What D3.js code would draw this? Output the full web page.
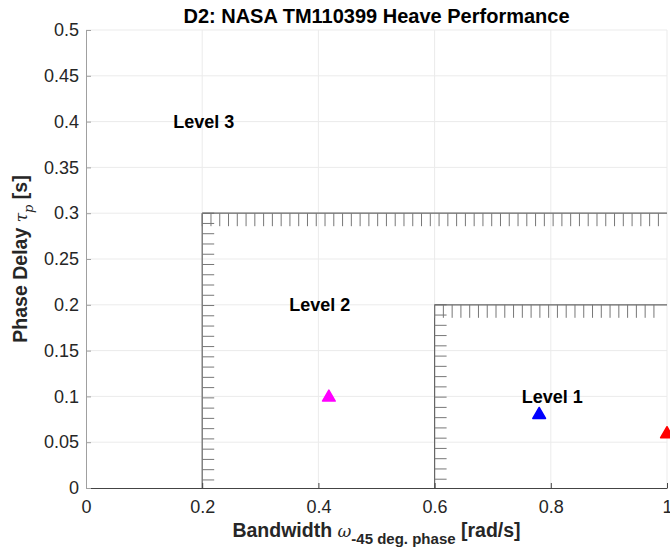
<!DOCTYPE html>
<html>
<head>
<meta charset="utf-8">
<script src="https://cdn.jsdelivr.net/npm/d3@7"></script>
<style>
  body { margin: 0; background: #fff; }
  text { font-family: "Liberation Sans", Arial, Helvetica, sans-serif; }
</style>
</head>
<body>
<div id="chart"></div>
<script>
// Level boundaries: vertical edge at x, horizontal edge at y (from x to 1)
const boundaryX = [0.2, 0.6];
const boundaryY = [0.3, 0.2];

// Data points (bandwidth, phase delay)
const pointX = [0.418, 0.78, 1.0];
const pointY = [0.1, 0.081, 0.06];
const pointColors = ['#ff00ff', '#0000ff', '#ff0000'];

// Level labels
const levelNames = ['Level 3', 'Level 2', 'Level 1'];
const levelX = [0.15, 0.35, 0.75];
const levelY = [0.4, 0.2, 0.1];

const xTicks = [0, 0.2, 0.4, 0.6, 0.8, 1];
const yTicks = [0, 0.05, 0.1, 0.15, 0.2, 0.25, 0.3, 0.35, 0.4, 0.45, 0.5];

const W = 670, H = 550;
const margin = { top: 30, right: 3, bottom: 62, left: 86 };
const width = W - margin.left - margin.right;
const height = H - margin.top - margin.bottom;

const svg = d3.select('#chart').append('svg')
    .attr('width', W)
    .attr('height', H);

const g = svg.append('g')
    .attr('transform', `translate(${margin.left},${margin.top})`);

const x = d3.scaleLinear().domain([0, 1]).range([0, width]);
const y = d3.scaleLinear().domain([0, 0.5]).range([height, 0]);

// Grid
g.append('g').selectAll('line').data(xTicks.slice(1)).enter().append('line')
    .attr('x1', d => x(d)).attr('x2', d => x(d))
    .attr('y1', 0).attr('y2', height)
    .attr('stroke', '#ebebeb').attr('stroke-width', 1);
g.append('g').selectAll('line').data(yTicks.slice(1)).enter().append('line')
    .attr('x1', 0).attr('x2', width)
    .attr('y1', d => y(d)).attr('y2', d => y(d))
    .attr('stroke', '#ebebeb').attr('stroke-width', 1);

// Hatched boundaries
const hatch = g.append('g');
const hatchColor = '#777';
const lineColor = '#666';
boundaryX.forEach((bx, i) => {
    const by = boundaryY[i];
    // vertical boundary with ticks pointing right
    hatch.append('line')
        .attr('x1', x(bx)).attr('x2', x(bx))
        .attr('y1', y(0)).attr('y2', y(by))
        .attr('stroke', lineColor).attr('stroke-width', 1.2);
    d3.range(by, 0.002, -0.0112).forEach(v => {
        hatch.append('line')
            .attr('x1', x(bx)).attr('x2', x(bx) + 12)
            .attr('y1', y(v)).attr('y2', y(v))
            .attr('stroke', hatchColor).attr('stroke-width', 1);
    });
    // horizontal boundary with ticks pointing down
    hatch.append('line')
        .attr('x1', x(bx)).attr('x2', x(1))
        .attr('y1', y(by)).attr('y2', y(by))
        .attr('stroke', lineColor).attr('stroke-width', 1.2);
    d3.range(bx, 0.99, 0.0151).forEach(v => {
        hatch.append('line')
            .attr('x1', x(v)).attr('x2', x(v))
            .attr('y1', y(by)).attr('y2', y(by) + 13)
            .attr('stroke', hatchColor).attr('stroke-width', 1);
    });
});

// Axes
const xAxis = g.append('g')
    .attr('transform', `translate(0,${height})`)
    .call(d3.axisBottom(x).tickValues(xTicks).tickSizeInner(-5).tickSizeOuter(0)
        .tickPadding(12).tickFormat(d3.format('')));
xAxis.select('.domain').attr('stroke', '#444');
xAxis.selectAll('.tick line').attr('stroke', '#444');
xAxis.selectAll('.tick text')
    .style('font-size', '18px').attr('fill', '#262626');

const yAxis = g.append('g')
    .call(d3.axisLeft(y).tickValues(yTicks).tickSizeInner(-5).tickSizeOuter(0)
        .tickPadding(7).tickFormat(d3.format('')));
yAxis.select('.domain').attr('stroke', '#a0a0a0');
yAxis.selectAll('.tick line').attr('stroke', '#a0a0a0');
yAxis.selectAll('.tick text')
    .style('font-size', '18px').attr('fill', '#262626');

// Level labels
g.append('g').selectAll('text').data(levelNames).enter().append('text')
    .attr('x', (d, i) => x(levelX[i]))
    .attr('y', (d, i) => y(levelY[i]))
    .attr('dy', '0.35em')
    .style('font-size', '18px')
    .style('font-weight', 'bold')
    .attr('fill', '#000')
    .text(d => d);

// Points
const tri = d3.symbol().type(d3.symbolTriangle).size(70);
g.append('g').selectAll('path').data(pointX).enter().append('path')
    .attr('d', tri)
    .attr('transform', (d, i) => `translate(${x(d)},${y(pointY[i]) + 1})`)
    .attr('fill', (d, i) => pointColors[i])
    .attr('stroke', (d, i) => pointColors[i])
    .attr('stroke-width', 1.5)
    .attr('stroke-linejoin', 'round');

// Title
svg.append('text')
    .attr('x', margin.left + width / 2)
    .attr('y', 23)
    .attr('text-anchor', 'middle')
    .style('font-size', '20px')
    .style('font-weight', 'bold')
    .attr('fill', '#000')
    .text('D2: NASA TM110399 Heave Performance');

// X label
const xl = svg.append('text')
    .attr('x', margin.left + width / 2)
    .attr('y', 537)
    .attr('text-anchor', 'middle')
    .style('font-size', '19.5px')
    .style('font-weight', 'bold')
    .attr('fill', '#262626');
xl.append('tspan').text('Bandwidth ');
xl.append('tspan').style('font-family', '"DejaVu Serif", serif').style('font-style', 'italic')
    .style('font-weight', 'normal').style('font-size', '17px').text('\u03c9');
xl.append('tspan').attr('dy', 7).style('font-size', '15px').text('-45 deg. phase');
xl.append('tspan').attr('dy', -7).text(' [rad/s]');

// Y label
const yl = svg.append('text')
    .attr('transform', `translate(27,${margin.top + height / 2}) rotate(-90)`)
    .attr('text-anchor', 'middle')
    .style('font-size', '19.5px')
    .style('font-weight', 'bold')
    .attr('fill', '#262626');
yl.append('tspan').text('Phase Delay ');
yl.append('tspan').style('font-family', '"DejaVu Serif", serif').style('font-style', 'italic')
    .style('font-weight', 'normal').style('font-size', '17px').text('\u03c4');
yl.append('tspan').attr('dy', 6).style('font-family', '"DejaVu Serif", serif').style('font-style', 'italic')
    .style('font-weight', 'normal').style('font-size', '13px').text('p');
yl.append('tspan').attr('dy', -6).text(' [s]');
</script>
</body>
</html>
